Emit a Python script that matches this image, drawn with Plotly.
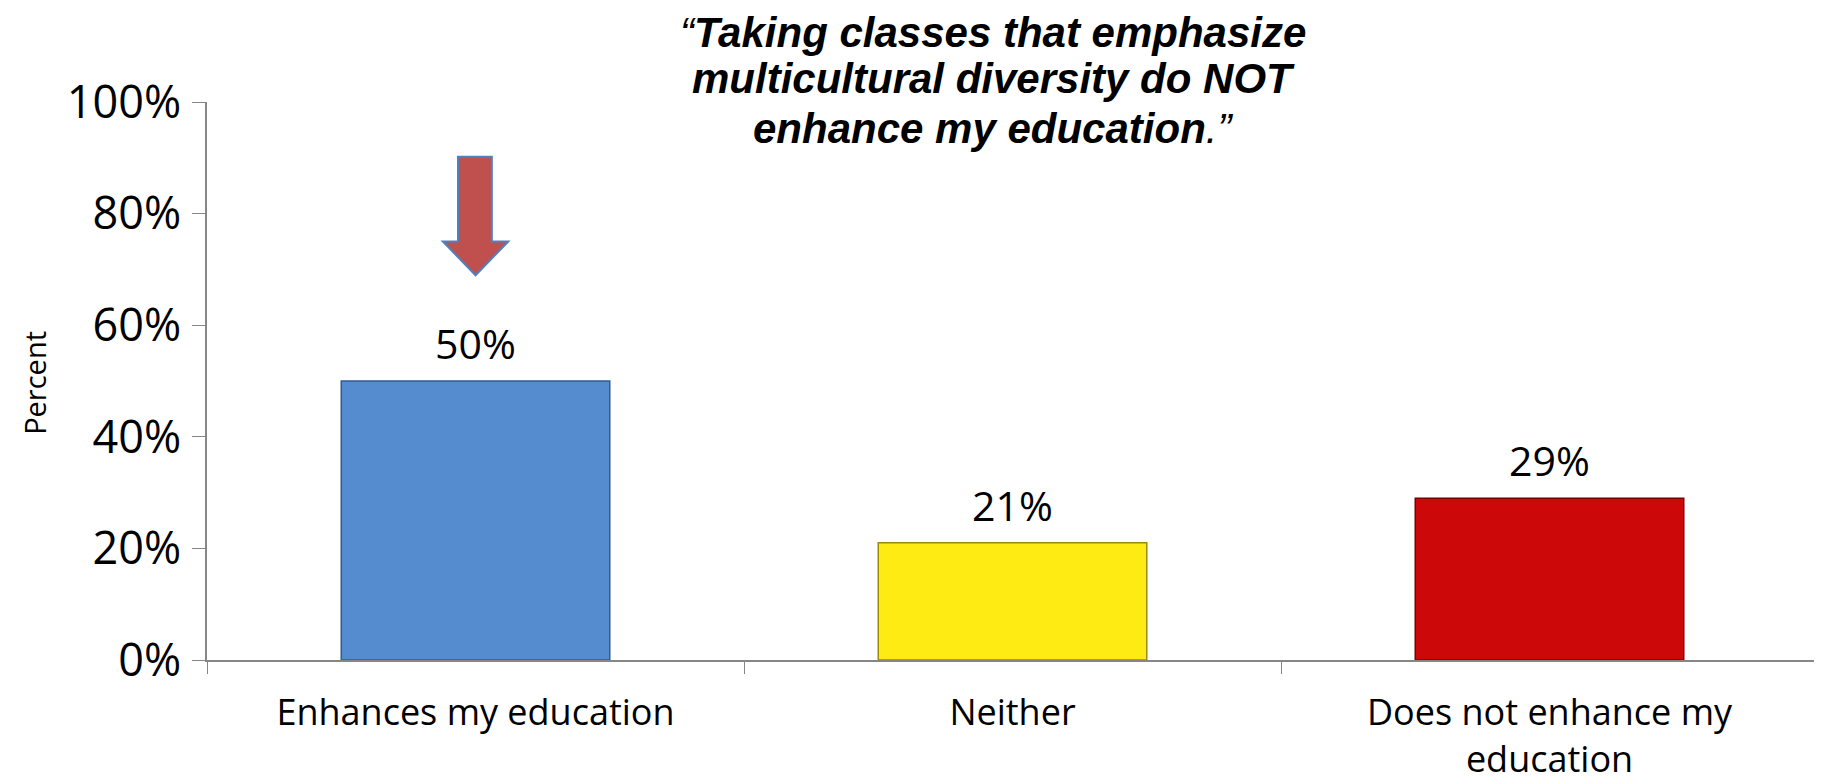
import plotly.graph_objects as go

categories = ["Enhances my education", "Neither", "Does not enhance my<br>education"]
values = [0.50, 0.21, 0.29]
labels = ["50%", "21%", "29%"]
bar_colors = ["#558BCF", "#FFEB14", "#CC0808"]
edge_colors = ["#2E5C96", "#9C8A00", "#7A0000"]
title_lines = [
    "<i>“<b>Taking classes that emphasize</b></i>",
    "<i><b>multicultural diversity do NOT</b></i>",
    "<i><b>enhance my education</b>.”</i>",
]

fig = go.Figure()

fig.add_trace(go.Bar(
    x=categories,
    y=values,
    marker=dict(color=bar_colors, line=dict(color=edge_colors, width=1.5)),
    hoverinfo="skip",
))

# data labels above the bars
for cat, val, lab in zip(categories, values, labels):
    fig.add_annotation(x=cat, y=val, text=lab, showarrow=False,
                       yanchor="bottom", yshift=8,
                       font=dict(family="Open Sans", size=41, color="#000000"))

# title, one line per annotation to get the wide line spacing
for ty, line in zip([1.124, 1.043, 0.952], title_lines):
    fig.add_annotation(xref="paper", yref="paper", x=0.488, y=ty, text=line,
                       showarrow=False, xanchor="center", yanchor="middle",
                       borderpad=0,
                       font=dict(family="Liberation Sans, Arial", size=42, color="#000000"))

# y-axis title
fig.add_annotation(xref="paper", yref="paper", x=-0.107, y=0.496, text="Percent",
                   showarrow=False, textangle=-90, xanchor="center", yanchor="middle",
                   borderpad=0,
                   font=dict(family="Open Sans", size=29, color="#000000"))

# red block arrow pointing at the first bar
fig.add_shape(type="path", xref="paper", yref="paper",
              path="M 0.1558 0.902 L 0.1768 0.902 L 0.1768 0.75 L 0.187 0.75 "
                   "L 0.1667 0.6896 L 0.1464 0.75 L 0.1558 0.75 Z",
              fillcolor="#C0504D", line=dict(color="#4F81BD", width=2))

fig.update_layout(
    width=1822, height=784,
    margin=dict(l=199, r=12, t=94, b=132),
    plot_bgcolor="white", paper_bgcolor="white",
    bargap=0.5, showlegend=False,
    font=dict(family="Open Sans", size=37, color="#000000"),
)
fig.update_xaxes(
    showline=True, linecolor="#868686", linewidth=1.5,
    ticks="outside", tickson="boundaries", ticklen=12, tickcolor="#868686",
    ticklabelstandoff=20, showgrid=False, automargin=False,
    tickfont=dict(family="Open Sans", size=36),
)
fig.update_yaxes(
    range=[0, 1], dtick=0.2, tickformat=".0%",
    showline=True, linecolor="#868686", linewidth=1.5,
    ticks="outside", ticklen=13, tickcolor="#868686",
    ticklabelstandoff=2, showgrid=False, zeroline=False, automargin=False,
    tickfont=dict(family="Open Sans", size=45),
)

fig.write_html("out.html")
